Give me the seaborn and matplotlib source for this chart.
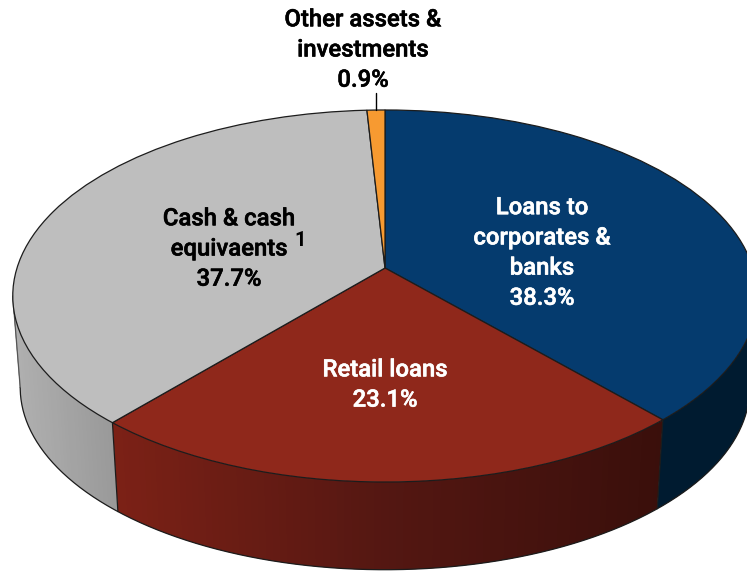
import numpy as np
import matplotlib
matplotlib.use("Agg")
import matplotlib.pyplot as plt
import matplotlib.patheffects as pe
from matplotlib.transforms import Transform
import seaborn as sns

# Asset mix, clockwise from twelve o'clock
segments = ["Loans to\ncorporates &\nbanks", "Retail loans", "Cash & cash\nequivaents", "Other assets &\ninvestments"]
shares = [38.3, 23.1, 37.7, 0.9]
top_colors = ["#053B6E", "#8F281B", "#BEBEBE", "#F79A31"]
side_ramps = [["#001B30", "#001B30"], ["#7C2116", "#541712", "#3A0F0B"], ["#B0B0B0", "#9A9A9A"], ["#B46E20", "#B46E20"]]
text_colors = ["white", "white", "black", "black"]

sns.set_theme(style="white")
plt.rcParams["font.family"] = ["Roboto", "DejaVu Sans"]


class DiscProjection(Transform):
    """Perspective view of the unit disc, expressed in pixel-like data units."""
    input_dims = output_dims = 2
    is_affine = False

    def __init__(self, cx, cy, half_width, half_depth, tilt):
        super().__init__()
        self.cx, self.cy, self.half_width, self.half_depth, self.tilt = cx, cy, half_width, half_depth, tilt

    def transform_non_affine(self, values):
        pts = np.asarray(values, dtype=float)
        w = 1 + self.tilt * pts[:, 1]
        return np.column_stack([self.cx + self.half_width * pts[:, 0] / w,
                                self.cy - self.half_depth * pts[:, 1] / w])


TILT = 0.1505
top_disc = DiscProjection(385, 268, 368, 181.8, TILT)
base_disc = DiscProjection(385, 360, 368 * 0.98, 181.8 * 0.98, TILT)


def rim(disc, angles):
    # angles run clockwise from the top of the disc, in degrees
    rad = np.radians(angles)
    return disc.transform_non_affine(np.column_stack([np.sin(rad), np.cos(rad)]))


fig = plt.figure(figsize=(7.47, 5.71), dpi=100)
ax = fig.add_axes([0, 0, 1, 1])

# Top face of the pie
wedges, _ = ax.pie(shares, startangle=90, counterclock=False, colors=top_colors, radius=1,
                   wedgeprops=dict(edgecolor="#1c1c1c", linewidth=0.9))
ax.set_aspect("auto")
ax.set_xlim(0, 747)
ax.set_ylim(571, 0)
ax.axis("off")
for wedge in wedges:
    wedge.set_transform(top_disc + ax.transData)
    wedge.set_zorder(5)

# Side wall, drawn as narrow overlapping strips so no seams show between them
side_angle = np.degrees(np.arccos(-TILT))
bounds = np.concatenate([[0], np.cumsum(shares)]) * 3.6
for start, stop, ramp in zip(bounds[:-1], bounds[1:], side_ramps):
    first, last = max(start, side_angle), min(stop, 360 - side_angle)
    if last <= first:
        continue
    angles = np.linspace(first, last, int(last - first) + 2)
    upper, lower = rim(top_disc, angles), rim(base_disc, angles)
    tones = sns.blend_palette(ramp, n_colors=256)
    x_lo, x_hi = upper[:, 0].min(), upper[:, 0].max()
    for i in range(len(angles) - 1):
        frac = np.clip((upper[i, 0] - x_lo) / max(x_hi - x_lo, 1), 0, 1)
        tone = tones[int(frac * 255)]
        j = min(i + 3, len(angles))
        quad = np.vstack([upper[i:j], lower[i:j][::-1]])
        ax.fill(quad[:, 0], quad[:, 1], color=tone, linewidth=0, zorder=2)

# Wall outlines: base rim, segment edges and the two silhouette edges
front = np.linspace(side_angle, 360 - side_angle, 300)
base_line = rim(base_disc, front)
ax.plot(base_line[:, 0], base_line[:, 1], color="#1c1c1c", lw=0.9, zorder=3)
for edge in bounds[1:3]:
    seam = np.vstack([rim(top_disc, np.array([edge])), rim(base_disc, np.array([edge]))])
    ax.plot(seam[:, 0], seam[:, 1], color="#1c1c1c", lw=0.9, zorder=3)
for edge in (side_angle, 360 - side_angle):
    seam = np.vstack([rim(top_disc, np.array([edge])), rim(base_disc, np.array([edge]))])
    ax.plot(seam[:, 0], seam[:, 1], color="#555555", lw=0.9, zorder=3)

# Labels, thickened slightly with a same-coloured stroke
label_style = dict(ha="center", va="center", fontsize=17.2, fontweight="medium",
                   linespacing=1.40, zorder=8)
positions = [(542, 253), (385, 385), (229, 249), (363, 50)]
for name, share, color, (x, y) in zip(segments, shares, text_colors, positions):
    label = ax.text(x, y, f"{name}\n{share}%", color=color, **label_style)
    label.set_path_effects([pe.withStroke(linewidth=0.4, foreground=color)])
ax.text(300, 241, "1", color="black", ha="center", va="center", fontsize=14.5, fontweight="bold", zorder=8)
ax.plot([375.5, 375.5], [93, 110], color="black", lw=1, zorder=6)

fig.savefig("out.png", dpi=100)
